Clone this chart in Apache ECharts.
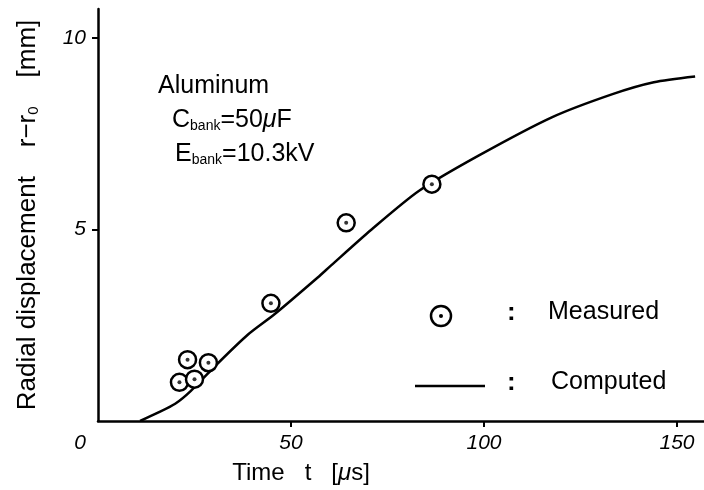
<!DOCTYPE html>
<html>
<head>
<meta charset="utf-8">
<script src="https://cdn.jsdelivr.net/npm/echarts@6/dist/echarts.min.js"></script>
<style>
  html, body { margin: 0; padding: 0; background: #fff; }
  #chart { width: 704px; height: 490px; }
</style>
</head>
<body>
<div id="chart"></div>
<script>
// computed curve (time in us, displacement in mm)
var compT = [10.9, 15.4, 20, 24, 31, 38.8, 45.8, 57, 60.4, 70.8, 83.1, 98.7, 117.7, 133.3, 144, 154.7];
var compR = [0, 0.21, 0.45, 0.78, 1.5, 2.25, 2.79, 3.75, 4.06, 4.99, 6.0, 6.93, 7.93, 8.53, 8.84, 8.99];

// measured points
var measT = [21.1, 25.0, 23.2, 28.6, 44.8, 64.3, 86.5];
var measR = [1.01, 1.09, 1.60, 1.52, 3.07, 5.17, 6.18];

var xTicks = [0, 50, 100, 150];
var yTicks = [5, 10];

var FONT = '"Liberation Sans", Arial, sans-serif';

function pairs(a, b) {
    var out = [];
    for (var i = 0; i < a.length; i++) out.push([a[i], b[i]]);
    return out;
}

var myChart = echarts.init(document.getElementById('chart'));

var option = {
    backgroundColor: '#fff',
    animation: false,
    grid: { left: 98, right: 0, top: 9, bottom: 65 },
    xAxis: {
        type: 'value',
        min: 0, max: 157, interval: 50,
        name: 'Time   t   [{mu|μ}s]',
        nameLocation: 'middle',
        nameGap: 40,
        nameTextStyle: {
            fontFamily: FONT, fontSize: 24, color: '#000',
            padding: [0, 200, 0, 0],
            rich: { mu: { fontFamily: FONT, fontSize: 24, fontStyle: 'italic', color: '#000' } }
        },
        axisLine: { lineStyle: { color: '#000', width: 2.5 } },
        axisTick: { show: true, length: 6, lineStyle: { color: '#000', width: 2 },
            customValues: xTicks.slice(1) },
        axisLabel: {
            fontFamily: FONT, fontSize: 21, fontStyle: 'italic', color: '#000', margin: 12,
            customValues: xTicks,
            formatter: function (v) { return v === 0 ? '{z|0}' : String(v); },
            rich: { z: { fontFamily: FONT, fontSize: 21, fontStyle: 'italic', color: '#000', padding: [0, 36, 0, 0] } }
        },
        splitLine: { show: false }
    },
    yAxis: {
        type: 'value',
        min: 0, max: 10.75, interval: 5,
        name: 'Radial displacement    r−r{sub|0}    [mm]',
        nameLocation: 'middle',
        nameGap: 57,
        nameTextStyle: {
            fontFamily: FONT, fontSize: 26, color: '#000',
            rich: { sub: { fontFamily: FONT, fontSize: 15, color: '#000', padding: [12, 0, 0, 0] } }
        },
        axisLine: { lineStyle: { color: '#000', width: 2.5 } },
        axisTick: { show: true, length: 6, lineStyle: { color: '#000', width: 2 },
            customValues: yTicks },
        axisLabel: {
            fontFamily: FONT, fontSize: 21, fontStyle: 'italic', color: '#000', margin: 12,
            customValues: yTicks
        },
        splitLine: { show: false }
    },
    series: [
        {
            name: 'Computed',
            type: 'line',
            data: pairs(compT, compR),
            smooth: 0.25,
            showSymbol: false,
            lineStyle: { color: '#000', width: 2.5 }
        },
        {
            name: 'Measured',
            type: 'scatter',
            data: pairs(measT, measR),
            symbol: 'circle',
            symbolSize: 17,
            itemStyle: { color: '#fff', borderColor: '#000', borderWidth: 2.5, opacity: 1 },
            z: 3
        },
        {
            name: 'MeasuredDot',
            type: 'scatter',
            data: pairs(measT, measR),
            symbol: 'circle',
            symbolSize: 4,
            itemStyle: { color: '#000' },
            z: 4
        }
    ],
    graphic: [
        { type: 'text', left: 158, top: 74,
          style: { text: 'Aluminum', font: '25px ' + FONT, fill: '#000' } },
        { type: 'text', left: 172, top: 108,
          style: { text: 'C{sub|bank}=50{mu|μ}F', font: '25px ' + FONT, fill: '#000',
            rich: { sub: { font: '14px ' + FONT, fill: '#000', padding: [12, 0, 0, 0] },
                    mu: { font: 'italic 25px ' + FONT, fill: '#000' } } } },
        { type: 'text', left: 175, top: 142,
          style: { text: 'E{sub|bank}=10.3kV', font: '25px ' + FONT, fill: '#000',
            rich: { sub: { font: '14px ' + FONT, fill: '#000', padding: [12, 0, 0, 0] } } } },
        // legend
        { type: 'circle', shape: { cx: 441, cy: 316, r: 10 },
          style: { fill: '#fff', stroke: '#000', lineWidth: 2.5 } },
        { type: 'circle', shape: { cx: 441, cy: 316, r: 2 }, style: { fill: '#000' } },
        { type: 'text', left: 507, top: 300, style: { text: ':', font: 'bold 26px ' + FONT, fill: '#000' } },
        { type: 'text', left: 548, top: 300, style: { text: 'Measured', font: '25px ' + FONT, fill: '#000' } },
        { type: 'line', shape: { x1: 415, y1: 386, x2: 485, y2: 386 },
          style: { stroke: '#000', lineWidth: 2.5 } },
        { type: 'text', left: 507, top: 370, style: { text: ':', font: 'bold 26px ' + FONT, fill: '#000' } },
        { type: 'text', left: 551, top: 370, style: { text: 'Computed', font: '25px ' + FONT, fill: '#000' } }
    ]
};

myChart.setOption(option);
</script>
</body>
</html>
